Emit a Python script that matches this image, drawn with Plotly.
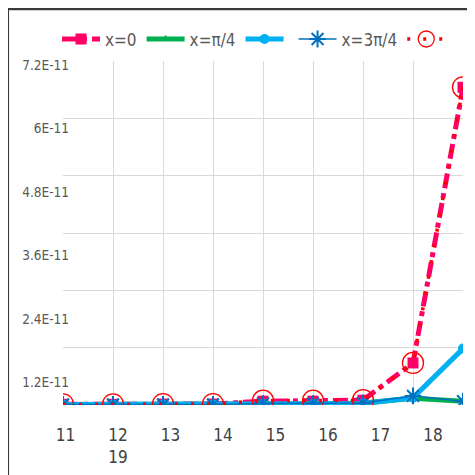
import plotly.graph_objects as go

# ---- data ----
categories = [11, 12, 13, 14, 15, 16, 17, 18, 19]
x0_vals = [0.15e-12, 0.15e-12, 0.2e-12, 0.2e-12, 0.8e-12, 0.8e-12, 1.0e-12, 8.8e-12, 66.5e-12]
xpi4_vals = [0.1e-12, 0.1e-12, 0.1e-12, 0.1e-12, 0.2e-12, 0.2e-12, 0.4e-12, 1.4e-12, 0.8e-12]
cyan_vals = [0.1e-12, 0.1e-12, 0.1e-12, 0.1e-12, 0.2e-12, 0.2e-12, 0.3e-12, 1.5e-12, 11.8e-12]
x3pi4_vals = [0.1e-12, 0.1e-12, 0.1e-12, 0.1e-12, 0.3e-12, 0.3e-12, 0.4e-12, 1.9e-12, 0.8e-12]
red_vals = [0.15e-12, 0.15e-12, 0.2e-12, 0.2e-12, 0.9e-12, 0.9e-12, 1.0e-12, 8.8e-12, 66.5e-12]

y_tick_vals = [1.2e-11, 2.4e-11, 3.6e-11, 4.8e-11, 6.0e-11, 7.2e-11]
y_tick_text = ["1.2E-11", "2.4E-11", "3.6E-11", "4.8E-11", "6E-11", "7.2E-11"]
x_tick_vals = [11, 12, 13, 14, 15, 16, 17, 18]
x_tick_text = ["11", "12<br>19", "13", "14", "15", "16", "17", "18"]

FONT = "Liberation Sans Narrow, DejaVu Sans Condensed, sans-serif"

fig = go.Figure()

fig.add_trace(go.Scatter(
    x=categories, y=xpi4_vals, name="x=\u03c0/4", legendrank=2,
    mode="lines+markers",
    line=dict(color="#00B050", width=5),
    marker=dict(symbol="triangle-up", size=8, color="#00B050"),
))
fig.add_trace(go.Scatter(
    x=categories, y=x0_vals, name="x=0", legendrank=1,
    mode="lines+markers",
    line=dict(color="#FF0066", width=5, dash="dashdot"),
    marker=dict(symbol="square", size=11, color="#FF0066"),
))
fig.add_trace(go.Scatter(
    x=categories, y=cyan_vals, name="", legendrank=3,
    mode="lines+markers",
    line=dict(color="#00B0F0", width=5),
    marker=dict(symbol="circle", size=10, color="#00B0F0"),
))
fig.add_trace(go.Scatter(
    x=categories, y=x3pi4_vals, name="x=3\u03c0/4", legendrank=4,
    mode="lines+markers",
    line=dict(color="#0070C0", width=1.5),
    marker=dict(symbol="asterisk-open", size=14, color="#0070C0",
                line=dict(color="#0070C0", width=2)),
))
fig.add_trace(go.Scatter(
    x=categories, y=red_vals, name="", legendrank=5,
    mode="lines+markers",
    line=dict(color="#FF0000", width=3.5, dash="3px,13px"),
    marker=dict(symbol="circle-open", size=21, color="#FF0000",
                line=dict(color="#FF0000", width=1.3)),
))
# empty trace to carry the label axes
fig.add_trace(go.Scatter(x=[], y=[], xaxis="x2", yaxis="y2",
                         showlegend=False, hoverinfo="skip"))

fig.update_layout(
    width=475, height=475,
    margin=dict(l=55, r=20, t=53, b=78, autoexpand=False),
    paper_bgcolor="white", plot_bgcolor="white",
    font=dict(family=FONT, color="#595959"),
    showlegend=True,
    legend=dict(
        orientation="h", x=-0.015, y=1.115, xanchor="left", yanchor="top",
        font=dict(family=FONT, size=17, color="#595959"),
        itemwidth=38, tracegroupgap=0, bgcolor="rgba(0,0,0,0)",
    ),
    xaxis=dict(
        range=[11, 19], tickvals=categories, showticklabels=False,
        showgrid=True, gridcolor="#D9D9D9", gridwidth=1,
        zeroline=False, showline=False, fixedrange=True, automargin=False,
    ),
    yaxis=dict(
        range=[0, 7.2e-11], tickvals=[0] + y_tick_vals, showticklabels=False,
        showgrid=True, gridcolor="#D9D9D9", gridwidth=1,
        zeroline=False, showline=False, automargin=False,
    ),
    xaxis2=dict(
        overlaying="x", anchor="y", side="bottom",
        range=[10.954, 18.573], tickvals=x_tick_vals, ticktext=x_tick_text,
        showgrid=False, zeroline=False, showline=False, automargin=False,
        tickfont=dict(family=FONT, size=17, color="#404040"),
        ticklabelstandoff=18,
    ),
    yaxis2=dict(
        overlaying="y", anchor="free", position=0.015, side="left",
        range=[0.774e-11, 7.276e-11], tickvals=y_tick_vals, ticktext=y_tick_text,
        showgrid=False, zeroline=False, showline=False, automargin=False,
        tickfont=dict(family=FONT, size=13.5, color="#595959"),
        ticklabelstandoff=0,
    ),
    shapes=[dict(
        type="rect", xref="paper", yref="paper",
        x0=-0.138, x1=1.06, y0=-0.3, y1=1.151,
        line=dict(color="#3A3A3A", width=2.5), fillcolor="rgba(0,0,0,0)",
        layer="below",
    )],
)

fig.write_html("out.html")
